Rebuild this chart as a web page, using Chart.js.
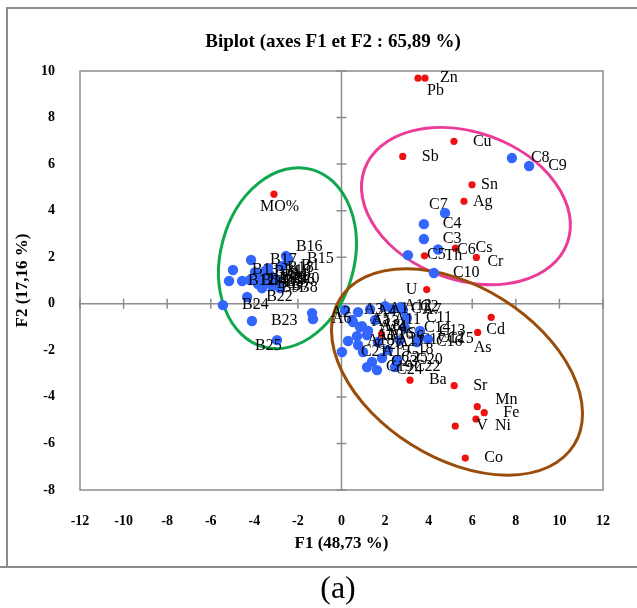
<!DOCTYPE html>
<html>
<head>
<meta charset="utf-8">
<script src="https://cdn.jsdelivr.net/npm/chart.js@4.4.1/dist/chart.umd.min.js"></script>
<style>
  html, body { margin: 0; padding: 0; background: #ffffff; }
  #wrap { position: relative; width: 637px; height: 608px; }
</style>
</head>
<body>
<div id="wrap"><canvas id="biplot" width="637" height="608"></canvas></div>
<script>
// Observations (sampling sites) on the first two factorial axes
const siteNames = [
  'A1','A2','A3','A4','A5','A6','A7','A8','A9','A10','A11','A12','A13','A14','A15','A16','A17','A18',
  'B1','B2','B3','B4','B5','B6','B7','B8','B9','B10','B11','B12','B13','B14','B15','B16','B17','B18','B19','B20','B21','B22','B23','B24','B25',
  'C1','C2','C3','C4','C5','C6','C7','C8','C9','C10','C11','C12','C13','C14','C15','C16','C17','C18','C19','C20','C21','C22','C23','C24','C25','C26'
];
const siteF1 = [
  1.31,-1.35,0.16,0.76,0.48,-1.31,2.82,0.94,1.22,0.71,1.54,2.00,0.53,0.85,0.99,1.17,1.67,0.30,
  -2.73,-3.65,-3.46,-3.28,-3.83,-2.96,-3.19,-2.82,-3.65,-3.51,-4.20,-5.16,-4.98,-4.56,-2.45,-2.55,-4.15,-3.37,-3.74,-3.10,-3.97,-4.33,-4.11,-5.44,-2.96,
  2.32,2.73,3.78,3.78,3.05,4.43,4.75,7.82,8.61,4.24,3.00,3.56,3.60,2.91,3.97,3.46,2.68,2.13,1.17,2.55,0.02,2.45,1.40,1.63,1.86,0.76
];
const siteF2 = [
  -0.23,-0.40,-0.27,-0.36,-0.70,-0.66,-0.27,-0.96,-1.17,-1.39,-0.70,-0.10,-0.79,-1.00,-2.07,-1.34,-1.64,-1.60,
  1.62,1.19,0.93,1.23,0.85,1.02,0.76,0.67,0.67,1.40,1.02,0.98,1.45,0.98,1.92,2.05,1.88,1.53,1.06,1.06,1.36,0.29,-0.74,-0.06,-1.56,
  -0.23,-0.14,2.78,3.42,2.09,2.33,3.90,6.26,5.92,1.32,-0.61,-1.47,-1.17,-1.04,-1.52,-1.65,-1.56,-1.99,-2.72,-2.42,-2.07,-2.72,-2.50,-2.85,-2.33,-1.77
];

// Active variables (element concentrations and organic matter)
const varNames = ['Zn','Pb','Cu','Sb','Sn','Ag','Cs','Th','Cr','U','Cd','As','Sc','Ba','Sr','Mn','Fe','Ni','V','Co','MO%'];
const varF1 = [3.83,3.51,5.16,2.81,5.99,5.62,5.23,3.81,6.19,3.91,6.87,6.25,1.84,3.14,5.17,6.23,6.55,6.17,5.22,5.68,-3.10];
const varF2 = [9.69,9.69,6.98,6.33,5.11,4.40,2.39,2.06,1.99,0.61,-0.58,-1.23,-1.30,-3.28,-3.52,-4.42,-4.68,-4.95,-5.25,-6.63,4.71];

// Axis tick values
const f1Ticks = [-12,-10,-8,-6,-4,-2,0,2,4,6,8,10,12];
const f2Ticks = [-8,-6,-4,-2,0,2,4,6,8,10];

// Groupings drawn as ellipses (centre in axis units, semi-axes in F1 units, tilt in degrees)
const groups = [
  { color: '#10a84e', cx: -2.48, cy: 1.96, rx: 3.07, ry: 4.22, tilt: 15 },
  { color: '#ea3c98', cx: 5.71, cy: 4.20, rx: 4.95, ry: 3.39, tilt: 20 },
  { color: '#9a4c0a', cx: 5.30, cy: -2.93, rx: 6.33, ry: 3.94, tilt: 32 }
];

// Label placement: default offset right of the marker, with a few hand-placed exceptions
const LABEL_DX = 19;
const labelShift = {
  Zn:[15,0], Pb:[9,13], Cu:[19,0], Sb:[19,0], Sn:[9,0], Ag:[9,0], Cs:[20,0], Th:[20,0],
  Cr:[11,4], U:[-21,0], Cd:[-5,13], As:[-4,15], Sc:[26,0], Mn:[18,-7], Ni:[19,7], V:[21,0],
  'MO%':[-14,13], C7:[-16,-8], B16:[10,-9], B25:[-22,6]
};

const SERIF = "'Liberation Serif', 'Times New Roman', serif";
const GREY = '#8c8c8c';

const toPoints = (xs, ys) => xs.map((x, i) => ({ x: x, y: ys[i] }));

const framePlugin = {
  id: 'frame',
  beforeDatasetsDraw(chart) {
    const { ctx, chartArea: a, scales: { x, y } } = chart;
    ctx.save();
    // outer figure frame
    ctx.strokeStyle = GREY;
    ctx.lineWidth = 2;
    ctx.beginPath();
    ctx.moveTo(7, 567); ctx.lineTo(7, 8); ctx.lineTo(637, 8);
    ctx.moveTo(0, 567); ctx.lineTo(637, 567);
    ctx.stroke();
    // plot box
    ctx.lineWidth = 1.5;
    ctx.strokeRect(a.left, a.top, a.right - a.left, a.bottom - a.top);
    // zero axes with tick marks
    const x0 = x.getPixelForValue(0), y0 = y.getPixelForValue(0);
    ctx.beginPath();
    ctx.moveTo(a.left, y0); ctx.lineTo(a.right, y0);
    ctx.moveTo(x0, a.top); ctx.lineTo(x0, a.bottom);
    f1Ticks.forEach(v => { const px = x.getPixelForValue(v); ctx.moveTo(px, y0 - 5); ctx.lineTo(px, y0 + 5); });
    f2Ticks.forEach(v => { const py = y.getPixelForValue(v); ctx.moveTo(x0 - 5, py); ctx.lineTo(x0 + 5, py); });
    ctx.stroke();
    // group ellipses
    const unit = Math.abs(x.getPixelForValue(1) - x.getPixelForValue(0));
    ctx.lineWidth = 3;
    groups.forEach(g => {
      ctx.strokeStyle = g.color;
      ctx.beginPath();
      ctx.ellipse(x.getPixelForValue(g.cx), y.getPixelForValue(g.cy), g.rx * unit, g.ry * unit, g.tilt * Math.PI / 180, 0, Math.PI * 2);
      ctx.stroke();
    });
    ctx.restore();
  }
};

const labelPlugin = {
  id: 'pointLabels',
  afterDatasetsDraw(chart) {
    const ctx = chart.ctx;
    ctx.save();
    ctx.font = '16px ' + SERIF;
    ctx.fillStyle = '#000000';
    ctx.textAlign = 'left';
    ctx.textBaseline = 'middle';
    chart.data.datasets.forEach((ds, di) => {
      const meta = chart.getDatasetMeta(di);
      meta.data.forEach((pt, i) => {
        const name = ds.names[i];
        const s = labelShift[name] || [LABEL_DX, 0];
        ctx.fillText(name, pt.x + s[0], pt.y + s[1]);
      });
    });
    ctx.restore();
  }
};

const textPlugin = {
  id: 'captions',
  afterDraw(chart) {
    const ctx = chart.ctx;
    ctx.save();
    ctx.fillStyle = '#000000';
    ctx.textAlign = 'center';
    ctx.textBaseline = 'middle';
    ctx.font = 'bold 19px ' + SERIF;
    ctx.fillText('Biplot (axes F1 et F2 : 65,89 %)', 333, 42);
    ctx.font = '32px ' + SERIF;
    ctx.fillText('(a)', 338, 590);
    ctx.restore();
  }
};

new Chart(document.getElementById('biplot'), {
  type: 'scatter',
  data: {
    datasets: [
      { label: 'Observations', names: siteNames, data: toPoints(siteF1, siteF2),
        pointRadius: 5.2, pointHoverRadius: 5.2, pointBackgroundColor: '#3366ff', pointBorderWidth: 0, borderWidth: 0 },
      { label: 'Variables', names: varNames, data: toPoints(varF1, varF2),
        pointRadius: 3.6, pointHoverRadius: 3.6, pointBackgroundColor: '#ee1111', pointBorderWidth: 0, borderWidth: 0 }
    ]
  },
  options: {
    responsive: false,
    devicePixelRatio: 1,
    animation: false,
    layout: { padding: { top: 71, left: 2, right: 34, bottom: 48 } },
    plugins: { legend: { display: false }, tooltip: { enabled: false }, title: { display: false } },
    scales: {
      x: {
        type: 'linear', min: -12, max: 12,
        afterBuildTicks: s => { s.ticks = f1Ticks.map(v => ({ value: v })); },
        afterFit: s => { s.height = 70; },
        grid: { display: false, drawTicks: false },
        border: { display: false },
        ticks: { color: '#000', padding: 23, font: { family: SERIF, size: 14, weight: 'bold' } },
        title: { display: true, text: 'F1 (48,73 %)', color: '#000', padding: { top: 0, bottom: 6 },
                 font: { family: SERIF, size: 17, weight: 'bold' } }
      },
      y: {
        type: 'linear', min: -8, max: 10,
        afterBuildTicks: s => { s.ticks = f2Ticks.map(v => ({ value: v })); },
        afterFit: s => { s.width = 78; },
        grid: { display: false, drawTicks: false },
        border: { display: false },
        ticks: { color: '#000', padding: 25, font: { family: SERIF, size: 14, weight: 'bold' } },
        title: { display: true, text: 'F2 (17,16 %)', color: '#000', padding: { top: 10, bottom: 0 },
                 font: { family: SERIF, size: 17, weight: 'bold' } }
      }
    }
  },
  plugins: [framePlugin, labelPlugin, textPlugin]
});
</script>
</body>
</html>
